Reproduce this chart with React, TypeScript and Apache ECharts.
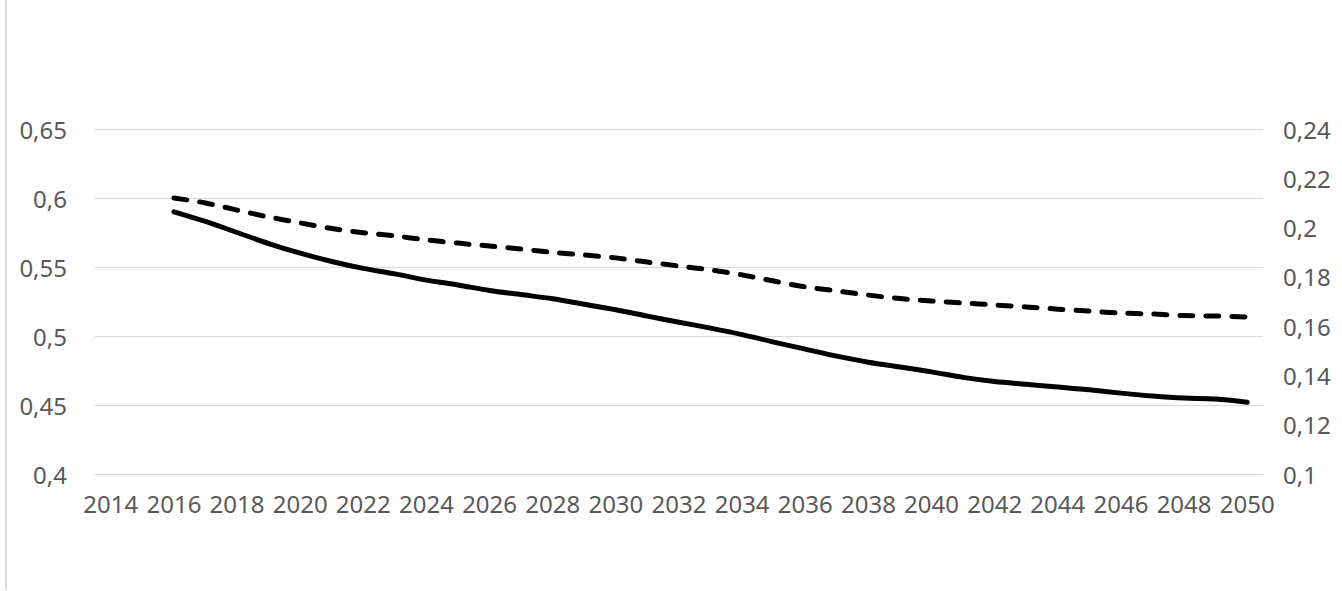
import React, { useEffect, useRef } from "react";
import * as echarts from "echarts";

const years: string[] = [];
for (let y = 2014; y <= 2050; y++) years.push(String(y));

// Solid line (left axis), 2016..2050
const solidValues = [
  0.590, 0.583, 0.575, 0.567, 0.560, 0.554, 0.549, 0.545, 0.5405, 0.537,
  0.533, 0.530, 0.527, 0.523, 0.519, 0.5144, 0.510, 0.5057, 0.501, 0.4956,
  0.4905, 0.4854, 0.481, 0.4775, 0.474, 0.470, 0.467, 0.465, 0.463, 0.461,
  0.4586, 0.4565, 0.455, 0.4543, 0.452,
];

// Dashed line (right axis), 2016..2050
const dashedValues = [
  0.212, 0.210, 0.2071, 0.2043, 0.2019, 0.1996, 0.1979, 0.1966, 0.195, 0.1937,
  0.1925, 0.1913, 0.1899, 0.1889, 0.1877, 0.186, 0.1844, 0.1828, 0.1808, 0.1783,
  0.1759, 0.1743, 0.1726, 0.1712, 0.1702, 0.1694, 0.1686, 0.1678, 0.1669, 0.1661,
  0.1653, 0.1649, 0.1643, 0.1641, 0.1637,
];

const pad = (vals: number[]) => [null, null, ...vals];

const fmt = (v: number) => String(Math.round(v * 1000) / 1000).replace(".", ",");

export default function App() {
  const ref = useRef<HTMLDivElement>(null);
  useEffect(() => {
    if (!ref.current) return;
    const chart = echarts.init(ref.current, undefined, { renderer: "svg" });
    const labelStyle = {
      color: "#595959",
      fontSize: 24,
      fontFamily: "Noto Sans",
    };
    chart.setOption({
      animation: false,
      backgroundColor: "#ffffff",
      grid: { left: 95, right: 79, top: 129, bottom: 117 },
      graphic: [
        {
          type: "line",
          shape: { x1: 6, y1: 0, x2: 6, y2: 590 },
          style: { stroke: "#d9d9d9", lineWidth: 2 },
        },
      ],
      xAxis: {
        type: "category",
        data: years,
        boundaryGap: true,
        axisLine: { show: false },
        axisTick: { show: false },
        axisLabel: { ...labelStyle, interval: 1, margin: 17 },
        splitLine: { show: false },
      },
      yAxis: [
        {
          type: "value",
          min: 0.4,
          max: 0.65,
          interval: 0.05,
          axisLine: { show: false },
          axisTick: { show: false },
          axisLabel: { ...labelStyle, margin: 28, formatter: fmt },
          splitLine: { show: true, lineStyle: { color: "#d9d9d9", width: 1 } },
        },
        {
          type: "value",
          min: 0.1,
          max: 0.24,
          interval: 0.02,
          axisLine: { show: false },
          axisTick: { show: false },
          axisLabel: { ...labelStyle, margin: 20, formatter: fmt },
          splitLine: { show: false },
        },
      ],
      series: [
        {
          type: "line",
          name: "solid",
          yAxisIndex: 0,
          data: pad(solidValues),
          symbol: "none",
          smooth: 0.3,
          lineStyle: { color: "#000000", width: 5, cap: "round", join: "round" },
        },
        {
          type: "line",
          name: "dashed",
          yAxisIndex: 1,
          data: pad(dashedValues),
          symbol: "none",
          smooth: 0.3,
          lineStyle: {
            color: "#000000",
            width: 5,
            type: [13, 13],
            cap: "round",
            join: "round",
          },
        },
      ],
    });
    return () => chart.dispose();
  }, []);
  return (
    <div
      ref={ref}
      style={{ position: "absolute", left: 0, top: 0, width: 1342, height: 591 }}
    />
  );
}
